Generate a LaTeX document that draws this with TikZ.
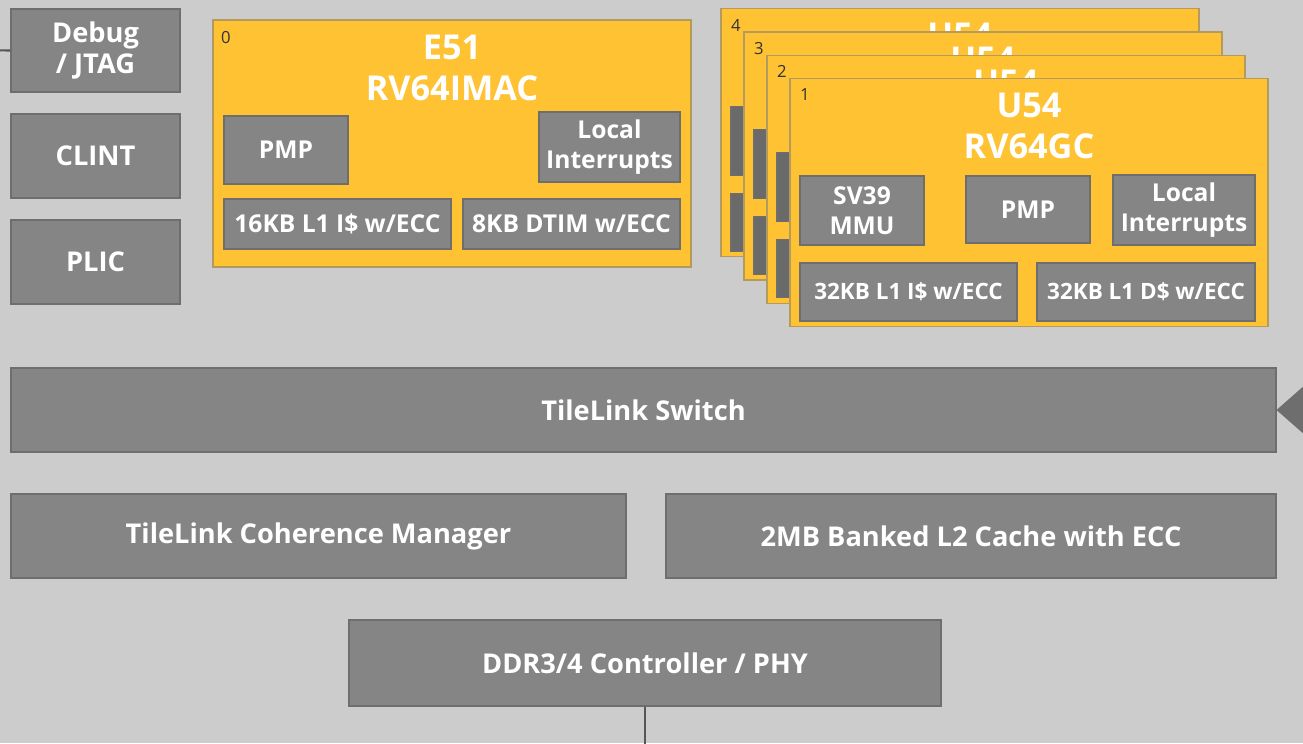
\documentclass[tikz,border=0pt]{standalone}
\usepackage{fontspec}
\setmainfont{Open Sans}
\definecolor{bggrey}{HTML}{CCCCCC}
\definecolor{blkgrey}{HTML}{858585}
\definecolor{blkdark}{HTML}{6A6A6A}
\definecolor{blkline}{HTML}{6E6E6E}
\definecolor{coreyellow}{HTML}{FEC233}
\definecolor{coreline}{HTML}{B39A5E}
\definecolor{wiregrey}{HTML}{555555}
\usetikzlibrary{arrows.meta,positioning}

\begin{document}
\begin{tikzpicture}[
  cbox/.style={rectangle, draw=coreline, line width=0.6pt, fill=coreyellow,
               minimum width=9.56cm, minimum height=4.96cm, inner sep=0pt},
  gbox/.style={rectangle, draw=blkline, line width=0.6pt, fill=blkgrey,
               inner sep=1pt, font=\fontsize{15.5}{18}\selectfont\bfseries,
               align=center, text=white},
  ibox/.style={gbox, font=\fontsize{14}{16.8}\selectfont\bfseries},
  ctitle/.style={font=\fontsize{19.5}{23.3}\selectfont\bfseries, align=center, text=white},
  cnum/.style={font=\fontsize{9.5}{10}\selectfont, text=black!80, inner sep=0pt},
  wire/.style={draw=wiregrey, line width=1.2pt},
  farr/.style={-{Triangle[length=0.8cm, width=1.4cm]}, draw=wiregrey!85, line width=1.2pt}
]
% Background
\fill[bggrey] (0,0) rectangle (26.06,-14.86);
\useasboundingbox (0,0) rectangle (26.06,-14.86);

% Left column
\node[gbox, minimum width=3.38cm, minimum height=1.66cm] (dbg)   at (1.91,-1.01) {Debug\\/ JTAG};
\node[gbox, minimum width=3.38cm, minimum height=1.68cm] (clint) at (1.91,-3.12) {CLINT};
\node[gbox, minimum width=3.38cm, minimum height=1.68cm] (plic)  at (1.91,-5.24) {PLIC};

% E51 core
\node[cbox, minimum height=4.94cm] (e51) at (9.04,-2.87) {};
\node[cnum] (e51num) at (4.52,-0.76) {0};
\node[ctitle] (e51name) at (9.04,-1.35) {E51\\RV64IMAC};
\node[ibox, minimum width=2.48cm, minimum height=1.36cm] (e51pmp) at (5.72,-3.00) {PMP};
\node[ibox, minimum width=2.82cm, minimum height=1.40cm] (e51irq) at (12.19,-2.94) {Local\\Interrupts};
\node[ibox, minimum width=4.54cm, minimum height=1.00cm] (e51ic)  at (6.75,-4.48) {16KB L1 I\$ w/ECC};
\node[ibox, minimum width=4.34cm, minimum height=1.00cm] (e51dt)  at (11.43,-4.48) {8KB DTIM w/ECC};

% U54 cores, back to front (only the front one shows its box labels)
\foreach \k in {4,3,2,1} {
  \ifnum\k=1 \colorlet{ufill}{blkgrey}\else\colorlet{ufill}{blkdark}\fi
  \begin{scope}[shift={({20.58-0.46*(\k-1)},{-4.05+0.465*(\k-1)})}]
    \node[cbox] (u\k) at (0,0) {};
    \node[cnum] (u\k num) at (-4.48,2.15) {\k};
    \node[ctitle] (u\k name) at (0,1.53) {U54\\RV64GC};
    \node[ibox, fill=ufill, minimum width=2.48cm, minimum height=1.38cm] (u\k mmu) at (-3.34,-0.16) {\ifnum\k=1 SV39\\MMU\fi};
    \node[ibox, fill=ufill, minimum width=2.48cm, minimum height=1.34cm] (u\k pmp) at (-0.02,-0.14) {\ifnum\k=1 PMP\fi};
    \node[ibox, fill=ufill, minimum width=2.84cm, minimum height=1.40cm] (u\k irq) at (3.10,-0.15) {\ifnum\k=1 Local\\Interrupts\fi};
    \node[ibox, fill=ufill, minimum width=4.34cm, minimum height=1.16cm, font=\fontsize{12.8}{15}\selectfont\bfseries] (u\k ic) at (-2.41,-1.79) {\ifnum\k=1 32KB L1 I\$ w/ECC\fi};
    \node[ibox, fill=ufill, minimum width=4.36cm, minimum height=1.16cm, font=\fontsize{12.8}{15}\selectfont\bfseries] (u\k dc) at (2.34,-1.79) {\ifnum\k=1 32KB L1 D\$ w/ECC\fi};
  \end{scope}
}

% Interconnect and memory
\node[gbox, minimum width=25.30cm, minimum height=1.68cm] (sw)  at (12.87,-8.20) {TileLink Switch};
\node[gbox, minimum width=12.30cm, minimum height=1.68cm] (tcm) at (6.37,-10.72) {TileLink Coherence Manager};
\node[gbox, minimum width=12.20cm, minimum height=1.68cm] (l2)  at (19.42,-10.72) {2MB Banked L2 Cache with ECC};
\node[gbox, minimum width=11.84cm, minimum height=1.72cm] (ddr) at (12.90,-13.26) {DDR3/4 Controller / PHY};

% Connectors
\coordinate (dbgin) at (-0.6,-1.00);
\coordinate (swin) at (27.6,-8.20);
\coordinate (ddrout) at (12.90,-15.40);
\draw[wire] (dbg.west) -- (dbgin);
\draw[wire] (ddr.south) -- (ddrout);
\draw[farr] (swin) -- (sw.east);
\end{tikzpicture}
\end{document}
